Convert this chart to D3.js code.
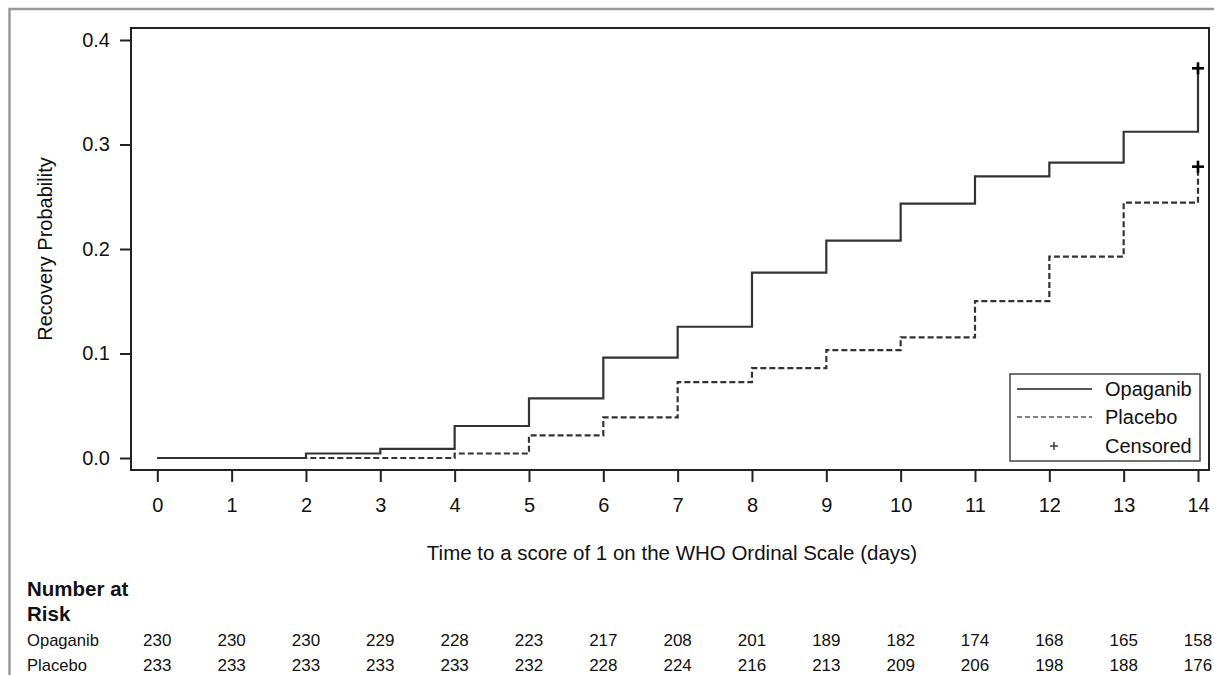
<!DOCTYPE html>
<html>
<head>
<meta charset="utf-8">
<script src="https://cdn.jsdelivr.net/npm/d3@7"></script>
<style>
  body { margin: 0; background: #fff; }
  text { font-family: "Liberation Sans", Arial, sans-serif; fill: #111; }
</style>
</head>
<body>
<div id="chart"></div>
<script>
// recovery probability (Kaplan-Meier, 1 - S) at each day
var days = [0, 1, 2, 3, 4, 5, 6, 7, 8, 9, 10, 11, 12, 13, 14];
var opaganib = [0, 0, 0.0043, 0.0087, 0.0306, 0.0571, 0.0960, 0.1256, 0.1773, 0.2080, 0.2434, 0.2695, 0.2826, 0.3122, 0.3729];
var placebo  = [0, 0, 0, 0, 0.0043, 0.0217, 0.0389, 0.0727, 0.0861, 0.1033, 0.1155, 0.1502, 0.1927, 0.2443, 0.2788];

// censored marks (day, value)
var censoredDays = [14, 14];
var censoredValues = [0.3729, 0.2788];

var yTicks = [0, 0.1, 0.2, 0.3, 0.4];
var xTicks = days;

var riskLabels = ["Opaganib", "Placebo"];
var riskOpaganib = [230, 230, 230, 229, 228, 223, 217, 208, 201, 189, 182, 174, 168, 165, 158];
var riskPlacebo  = [233, 233, 233, 233, 233, 232, 228, 224, 216, 213, 209, 206, 198, 188, 176];

var legendLabels = ["Opaganib", "Placebo", "Censored"];

var width = 1214, height = 675;
var frame = { left: 131, top: 28, right: 1209, bottom: 470 };

var svg = d3.select("#chart").append("svg")
    .attr("width", width)
    .attr("height", height);

svg.append("rect")
    .attr("width", width).attr("height", height)
    .attr("fill", "#fff");

// outer grey border (cropped on the right and bottom)
svg.append("rect")
    .attr("x", 9.5).attr("y", 9)
    .attr("width", 1300).attr("height", 800)
    .attr("fill", "none")
    .attr("stroke", "#9a9a9a")
    .attr("stroke-width", 2.5);

var x = d3.scaleLinear().domain([0, 14]).range([157.3, 1198]);
var y = d3.scaleLinear().domain([0, 0.4]).range([458, 40]);

// axes
var yAxis = svg.append("g")
    .attr("transform", "translate(" + frame.left + ",0)")
    .call(d3.axisLeft(y).tickValues(yTicks).tickFormat(d3.format(".1f")).tickSize(11).tickPadding(10));

var xAxis = svg.append("g")
    .attr("transform", "translate(0," + frame.bottom + ")")
    .call(d3.axisBottom(x).tickValues(xTicks).tickFormat(d3.format("d")).tickSize(12).tickPadding(16));

[yAxis, xAxis].forEach(function(a) {
  a.select(".domain").remove();
  a.selectAll(".tick line").attr("stroke", "#222").attr("stroke-width", 2);
  a.selectAll(".tick text").attr("font-size", "20px").attr("font-family", null).attr("fill", "#111");
});

// plot frame
svg.append("rect")
    .attr("x", frame.left).attr("y", frame.top)
    .attr("width", frame.right - frame.left)
    .attr("height", frame.bottom - frame.top)
    .attr("fill", "none")
    .attr("stroke", "#222")
    .attr("stroke-width", 2);

// axis titles
svg.append("text")
    .attr("transform", "translate(51.5," + (frame.top + frame.bottom) / 2 + ") rotate(-90)")
    .attr("text-anchor", "middle")
    .attr("font-size", "20px")
    .text("Recovery Probability");

svg.append("text")
    .attr("x", 672).attr("y", 559.5)
    .attr("text-anchor", "middle")
    .attr("font-size", "20.5px")
    .text("Time to a score of 1 on the WHO Ordinal Scale (days)");

// step curves
var line = d3.line()
    .x(function(d) { return x(d[0]); })
    .y(function(d) { return y(d[1]); })
    .curve(d3.curveStepAfter);

svg.append("path")
    .datum(d3.zip(days, opaganib))
    .attr("d", line)
    .attr("fill", "none")
    .attr("stroke", "#333")
    .attr("stroke-width", 2.2);

svg.append("path")
    .datum(d3.zip(days, placebo))
    .attr("d", line)
    .attr("fill", "none")
    .attr("stroke", "#333")
    .attr("stroke-width", 2.2)
    .attr("stroke-dasharray", "6,3");

// censored marks
var plus = d3.symbol().type(d3.symbolCross);
svg.selectAll(".censor")
    .data(d3.zip(censoredDays, censoredValues))
    .enter()
    .append("g")
    .attr("class", "censor")
    .attr("transform", function(d) { return "translate(" + x(d[0]) + "," + y(d[1]) + ")"; })
    .each(function() {
      var g = d3.select(this);
      g.append("line").attr("x1", -6).attr("x2", 6).attr("stroke", "#000").attr("stroke-width", 2.6);
      g.append("line").attr("y1", -6).attr("y2", 6).attr("stroke", "#000").attr("stroke-width", 2.6);
    });

// legend
var legend = svg.append("g");
legend.append("rect")
    .attr("x", 1010).attr("y", 374)
    .attr("width", 190).attr("height", 87)
    .attr("fill", "#fff")
    .attr("stroke", "#444")
    .attr("stroke-width", 1.5);

var legendRows = [389, 417, 446];
legendLabels.forEach(function(lbl, i) {
  legend.append("text")
      .attr("x", 1105).attr("y", legendRows[i] + 6.5)
      .attr("font-size", "20px")
      .text(lbl);
});
legend.append("line")
    .attr("x1", 1017).attr("x2", 1092)
    .attr("y1", legendRows[0]).attr("y2", legendRows[0])
    .attr("stroke", "#555").attr("stroke-width", 2);
legend.append("line")
    .attr("x1", 1017).attr("x2", 1092)
    .attr("y1", legendRows[1]).attr("y2", legendRows[1])
    .attr("stroke", "#555").attr("stroke-width", 1.6)
    .attr("stroke-dasharray", "5,3");
legend.append("line")
    .attr("x1", 1050).attr("x2", 1058)
    .attr("y1", legendRows[2]).attr("y2", legendRows[2])
    .attr("stroke", "#333").attr("stroke-width", 1.4);
legend.append("line")
    .attr("x1", 1054).attr("x2", 1054)
    .attr("y1", legendRows[2] - 4).attr("y2", legendRows[2] + 4)
    .attr("stroke", "#333").attr("stroke-width", 1.4);

// number at risk table
svg.append("text")
    .attr("x", 27).attr("y", 595.5)
    .attr("font-size", "20.5px")
    .attr("font-weight", "bold")
    .text("Number at");
svg.append("text")
    .attr("x", 27).attr("y", 621)
    .attr("font-size", "20.5px")
    .attr("font-weight", "bold")
    .text("Risk");

var riskRows = [riskOpaganib, riskPlacebo];
var riskY = [645.5, 671];
riskRows.forEach(function(row, r) {
  svg.append("text")
      .attr("x", 27).attr("y", riskY[r])
      .attr("font-size", "16.6px")
      .text(riskLabels[r]);
  svg.selectAll(".risk" + r)
      .data(d3.zip(days, row))
      .enter()
      .append("text")
      .attr("class", "risk" + r)
      .attr("x", function(d) { return x(d[0]); })
      .attr("y", riskY[r])
      .attr("text-anchor", "middle")
      .attr("font-size", "17px")
      .text(function(d) { return d[1]; });
});
</script>
</body>
</html>
